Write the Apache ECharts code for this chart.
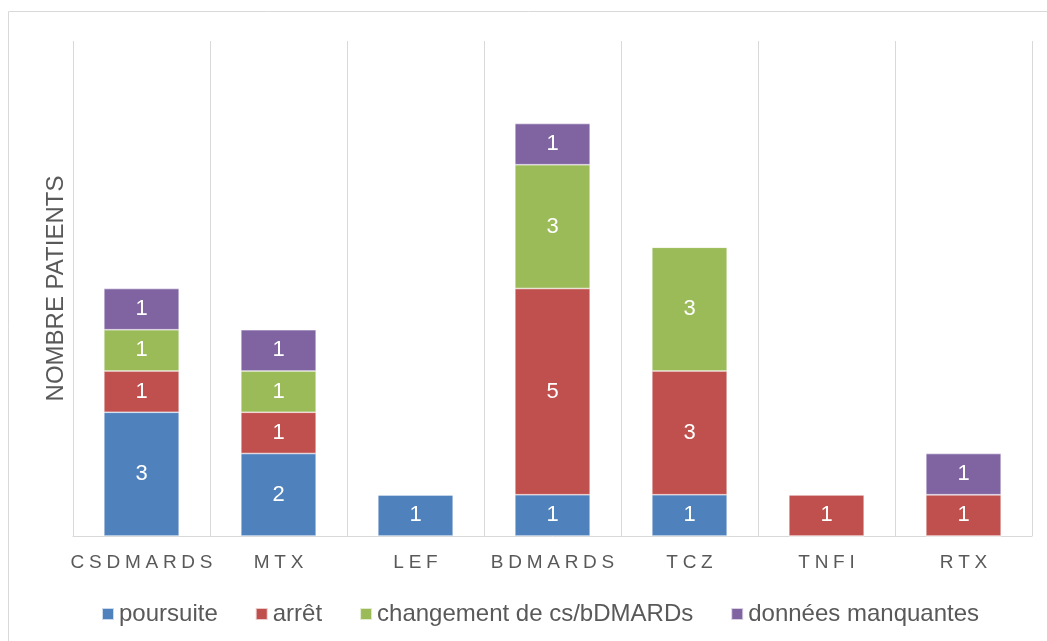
<!DOCTYPE html>
<html>
<head>
<meta charset="utf-8">
<script src="https://cdn.jsdelivr.net/npm/echarts@6/dist/echarts.min.js"></script>
<style>
  html, body { margin: 0; padding: 0; background: #fff; }
  #chart { width: 1047px; height: 641px; }
</style>
</head>
<body>
<div id="chart"></div>
<script>
const categories = ['CSDMARDS', 'MTX', 'LEF', 'BDMARDS', 'TCZ', 'TNFI', 'RTX'];
const seriesNames = ['poursuite', 'arrêt', 'changement de cs/bDMARDs', 'données manquantes'];
const poursuite = [3, 2, 1, 1, 1, 0, 0];
const arret = [1, 1, 0, 5, 3, 1, 1];
const changement = [1, 1, 0, 3, 3, 0, 0];
const manquantes = [1, 1, 0, 1, 0, 0, 1];
const colors = ['#4F81BD', '#C0504D', '#9BBB59', '#8064A2'];

const chart = echarts.init(document.getElementById('chart'));

const makeSeries = (name, data, color) => ({
    name: name,
    type: 'bar',
    stack: 'total',
    barWidth: '55%',
    data: data,
    itemStyle: { color: color, borderColor: 'rgba(255,255,255,0.7)', borderWidth: 0.7 },
    label: {
        show: true,
        position: 'inside',
        color: '#fff',
        fontSize: 22,
        fontFamily: 'Liberation Sans, Arial, sans-serif',
        formatter: p => (p.value ? String(p.value) : '')
    }
});

chart.setOption({
    backgroundColor: '#fff',
    animation: false,
    graphic: [{
        type: 'rect',
        shape: { x: 8.5, y: 11.5, width: 1060, height: 660 },
        style: { fill: 'none', stroke: '#d9d9d9', lineWidth: 1 },
        silent: true
    }],
    grid: { left: 73, right: 15, top: 41, bottom: 105 },
    legend: {
        left: 96,
        top: 597,
        icon: 'rect',
        itemWidth: 12,
        itemHeight: 12,
        itemGap: 37,
        textStyle: { color: '#595959', fontSize: 24, fontFamily: 'Liberation Sans, Arial, sans-serif' },
        data: seriesNames
    },
    xAxis: {
        type: 'category',
        data: categories,
        axisLine: { lineStyle: { color: '#d9d9d9', width: 1 } },
        axisTick: { show: false },
        splitLine: { show: true, interval: 0, lineStyle: { color: '#d9d9d9', width: 1 } },
        axisLabel: {
            interval: 0,
            margin: 17,
            color: '#595959',
            fontSize: 19,
            fontFamily: 'Liberation Sans, Arial, sans-serif',
            formatter: v => v.split('').join('\u2005')
        }
    },
    yAxis: {
        type: 'value',
        min: 0,
        max: 12,
        interval: 1,
        name: 'NOMBRE PATIENTS',
        nameLocation: 'middle',
        nameGap: 5,
        nameTextStyle: { color: '#595959', fontSize: 24, fontFamily: 'Liberation Sans, Arial, sans-serif' },
        axisLine: { show: false },
        axisTick: { show: false },
        axisLabel: { show: false },
        splitLine: { show: false }
    },
    series: [
        makeSeries(seriesNames[0], poursuite, colors[0]),
        makeSeries(seriesNames[1], arret, colors[1]),
        makeSeries(seriesNames[2], changement, colors[2]),
        makeSeries(seriesNames[3], manquantes, colors[3])
    ]
});
</script>
</body>
</html>
